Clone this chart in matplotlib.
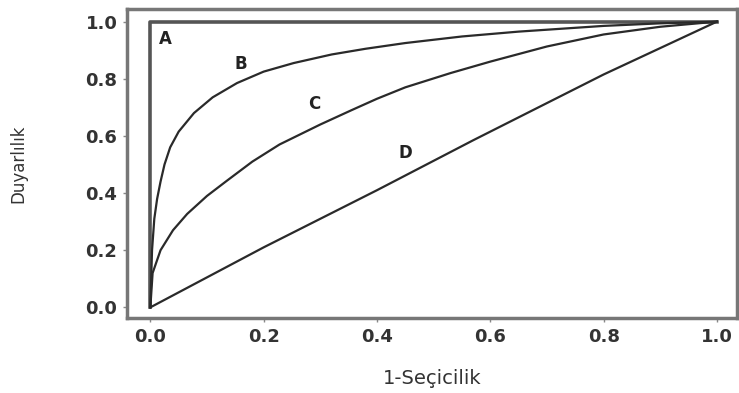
#!/usr/bin/env python3

import matplotlib
matplotlib.use('Agg')
import matplotlib.pyplot as plt

# ROC curves
curve_a_x = [0.0, 0.0, 1.0]
curve_a_y = [0.0, 1.0, 1.0]

curve_b_x = [0.0, 0.003, 0.007, 0.012, 0.018, 0.025, 0.035, 0.05, 0.077, 0.11, 0.153,
             0.2, 0.253, 0.32, 0.38, 0.45, 0.55, 0.65, 0.8, 0.9, 1.0]
curve_b_y = [0.0, 0.2, 0.31, 0.38, 0.44, 0.5, 0.56, 0.615, 0.68, 0.735, 0.785,
             0.825, 0.855, 0.885, 0.905, 0.925, 0.948, 0.965, 0.985, 0.994, 1.0]

curve_c_x = [0.0, 0.004, 0.018, 0.04, 0.065, 0.1, 0.135, 0.18, 0.228, 0.3, 0.355,
             0.4, 0.45, 0.53, 0.6, 0.7, 0.8, 0.9, 1.0]
curve_c_y = [0.0, 0.12, 0.2, 0.27, 0.327, 0.39, 0.443, 0.51, 0.57, 0.64, 0.69,
             0.73, 0.77, 0.82, 0.86, 0.913, 0.955, 0.982, 1.0]

curve_d_x = [0.0, 0.2, 0.4, 0.57, 0.8, 1.0]
curve_d_y = [0.0, 0.21, 0.41, 0.585, 0.815, 1.0]

labels = ['A', 'B', 'C', 'D']
label_x = [0.026, 0.16, 0.29, 0.45]
label_y = [0.94, 0.85, 0.71, 0.54]

ticks = [0.0, 0.2, 0.4, 0.6, 0.8, 1.0]
tick_labels = ['0.0', '0.2', '0.4', '0.6', '0.8', '1.0']


def main():
    fig = plt.figure(figsize=(7.39, 3.93), dpi=100)
    ax = fig.add_axes([0.172, 0.191, 0.825, 0.786])

    ax.plot(curve_a_x, curve_a_y, color='#555555', lw=2.6)
    ax.plot(curve_b_x, curve_b_y, color='#2a2a2a', lw=1.6)
    ax.plot(curve_c_x, curve_c_y, color='#2a2a2a', lw=1.6)
    ax.plot(curve_d_x, curve_d_y, color='#2a2a2a', lw=1.6)

    for lab, x, y in zip(labels, label_x, label_y):
        ax.text(x, y, lab, fontsize=12, fontweight='bold', color='#222222',
                ha='center', va='center')

    ax.set_xlim(-0.041, 1.035)
    ax.set_ylim(-0.037, 1.044)
    ax.set_xticks(ticks)
    ax.set_xticklabels(tick_labels)
    ax.set_yticks(ticks)
    ax.set_yticklabels(tick_labels)
    ax.tick_params(length=3, width=1, color='#888888', labelsize=13,
                   labelcolor='#333333', pad=4)
    for lab in ax.get_xticklabels() + ax.get_yticklabels():
        lab.set_fontweight('bold')

    for spine in ax.spines.values():
        spine.set_color('#777777')
        spine.set_linewidth(2.5)

    ax.set_xlabel('1-Seçicilik', fontsize=14, color='#333333', labelpad=17)
    ax.set_ylabel('Duyarlılık', fontsize=12, color='#333333', labelpad=42)

    fig.savefig('out.png', dpi=100)


if __name__ == '__main__':
    main()
